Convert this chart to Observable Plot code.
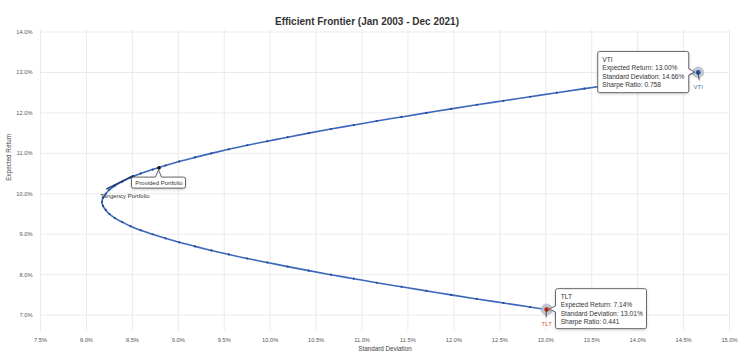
<!DOCTYPE html>
<html>
<head>
<meta charset="utf-8">
<script src="https://cdn.jsdelivr.net/npm/d3@7"></script>
<script src="https://cdn.jsdelivr.net/npm/@observablehq/plot@0.6"></script>
<style>
  html, body { margin: 0; padding: 0; background: white; }
</style>
</head>
<body>
<div id="chart"></div>
<script>
// ---- data ----
const title = "Efficient Frontier (Jan 2003 - Dec 2021)";
const xLabel = "Standard Deviation";
const yLabel = "Expected Return";
const xTicks = [7.5, 8.0, 8.5, 9.0, 9.5, 10.0, 10.5, 11.0, 11.5, 12.0, 12.5, 13.0, 13.5, 14.0, 14.5, 15.0];
const yTicks = [7, 8, 9, 10, 11, 12, 13, 14];

// frontier: expected return (%) and standard deviation (%)
const frontierRet = [7.14, 7.2, 7.3, 7.4, 7.5, 7.6, 7.7, 7.8, 7.9, 8.0, 8.1, 8.2, 8.3, 8.4, 8.5, 8.6, 8.7, 8.8, 8.9, 9.0,
  9.1, 9.2, 9.3, 9.4, 9.5, 9.6, 9.7, 9.8, 9.9, 10.0, 10.1, 10.2, 10.3, 10.4, 10.5, 10.6, 10.7, 10.8, 10.9, 11.0,
  11.1, 11.2, 11.3, 11.4, 11.5, 11.6, 11.7, 11.8, 11.9, 12.0, 12.1, 12.2, 12.3, 12.4, 12.5, 12.6, 12.7, 12.8, 12.9, 13.0];
const frontierSd = [13.01, 12.83, 12.54, 12.25, 11.97, 11.70, 11.43, 11.16, 10.91, 10.66, 10.42, 10.19, 9.97, 9.75, 9.55, 9.36, 9.18, 9.01, 8.86, 8.72,
  8.59, 8.48, 8.39, 8.31, 8.25, 8.21, 8.18, 8.17, 8.18, 8.21, 8.25, 8.31, 8.39, 8.48, 8.59, 8.72, 8.86, 9.01, 9.18, 9.36,
  9.55, 9.75, 9.97, 10.19, 10.42, 10.66, 10.91, 11.16, 11.43, 11.70, 11.97, 12.25, 12.54, 12.83, 13.12, 13.42, 13.73, 14.04, 14.35, 14.66];

const assetNames = ["VTI", "TLT"];
const assetRet = [13.00, 7.14];
const assetSd = [14.66, 13.01];
const assetSharpe = [0.758, 0.441];

const providedName = "Provided Portfolio";
const providedRet = 10.64;
const providedSd = 8.79;

const tangencyName = "Tangency Portfolio";
const tangencyRet = 10.43;
const tangencySd = 8.51;

// ---- tables ----
const frontier = frontierRet.map((r, i) => ({ret: r, sd: frontierSd[i]}));
const assets = assetNames.map((n, i) => ({name: n, ret: assetRet[i], sd: assetSd[i], sharpe: assetSharpe[i]}));
const provided = [{name: providedName, ret: providedRet, sd: providedSd}];
const tangency = [{name: tangencyName, ret: tangencyRet, sd: tangencySd}];
const vti = [assets[0]];
const tlt = [assets[1]];

const lineColor = "#3b67bd";
const dotColor = "#26498f";
const assetColor = {VTI: "#2a55b0", TLT: "#c8391f"};
const labelColor = {VTI: "#4a6db5", TLT: "#d0603a"};

// leader line drawn in pixel offsets from a data point
function leader(d, dxp, dyp, stroke, width) {
  return (index, scales) => {
    const x = scales.x(d.sd), y = scales.y(d.ret);
    return d3.create("svg:line")
      .attr("x1", x).attr("y1", y)
      .attr("x2", x + dxp).attr("y2", y + dyp)
      .attr("stroke", stroke).attr("stroke-width", width)
      .attr("stroke-linecap", "round")
      .node();
  };
}

// annotation box (pixel offsets from a data point) with a pointer toward the point
function box(d, x0, x1, y0, y1, side, gap) {
  return (index, scales) => {
    const px = scales.x(d.sd), py = scales.y(d.ret);
    const a = px + x0, b = px + x1, t = py + y0, u = py + y1, r = 2, w = 3;
    let p;
    if (side === "right") {
      p = `M${a + r},${t}H${b - r}Q${b},${t} ${b},${t + r}V${py - w}L${px - gap},${py}L${b},${py + w}V${u - r}Q${b},${u} ${b - r},${u}H${a + r}Q${a},${u} ${a},${u - r}V${t + r}Q${a},${t} ${a + r},${t}Z`;
    } else if (side === "left") {
      p = `M${a + r},${t}H${b - r}Q${b},${t} ${b},${t + r}V${u - r}Q${b},${u} ${b - r},${u}H${a + r}Q${a},${u} ${a},${u - r}V${py + w}L${px + gap},${py}L${a},${py - w}V${t + r}Q${a},${t} ${a + r},${t}Z`;
    } else {
      p = `M${a + r},${t}H${px - w}L${px},${py + gap}L${px + w},${t}H${b - r}Q${b},${t} ${b},${t + r}V${u - r}Q${b},${u} ${b - r},${u}H${a + r}Q${a},${u} ${a},${u - r}V${t + r}Q${a},${t} ${a + r},${t}Z`;
    }
    return d3.create("svg:path")
      .attr("d", p)
      .attr("fill", "white")
      .attr("stroke", "#555")
      .attr("stroke-width", 0.9)
      .style("filter", "drop-shadow(0 1px 1.5px rgba(0,0,0,0.18))")
      .node();
  };
}

const tipLines = [
  d => d.name,
  d => `Expected Return: ${d.ret.toFixed(2)}%`,
  d => `Standard Deviation: ${d.sd.toFixed(2)}%`,
  d => `Sharpe Ratio: ${d.sharpe.toFixed(3)}`
];
const lineOffsets = [-12.3, -4.1, 4.1, 12.3];
function tipTextMarks(data, dx) {
  return tipLines.map((f, i) => Plot.text(data, {x: "sd", y: "ret", text: f, textAnchor: "start", dx, dy: lineOffsets[i], fontSize: 6.6, fill: "#333"}));
}

const chart = Plot.plot({
  width: 740,
  height: 359,
  marginLeft: 40,
  marginRight: 11,
  marginTop: 29.5,
  marginBottom: 28.2,
  style: {fontFamily: "Liberation Sans, Arial, sans-serif", color: "#333", background: "white"},
  x: {domain: [7.5, 15.0]},
  y: {domain: [6.6, 14.05]},
  marks: [
    Plot.gridX(xTicks, {stroke: "#ebebeb", strokeOpacity: 1, strokeWidth: 1}),
    Plot.gridY(yTicks, {stroke: "#ebebeb", strokeOpacity: 1, strokeWidth: 1}),
    Plot.axisX(xTicks, {tickFormat: d => d.toFixed(1) + "%", tickSize: 0, tickPadding: 7, fontSize: 5.7, color: "#555", label: null}),
    Plot.axisY(yTicks, {tickFormat: d => d.toFixed(1) + "%", tickSize: 0, tickPadding: 8, fontSize: 5.7, color: "#555", label: null}),
    Plot.text([title], {frameAnchor: "top", dx: -18, dy: -12, fontSize: 10, fontWeight: "bold", fill: "#333"}),
    Plot.text([xLabel], {frameAnchor: "bottom", dy: 20, fontSize: 6.3, fill: "#444"}),
    Plot.text([yLabel], {frameAnchor: "left", dx: -32, rotate: -90, fontSize: 6.3, fill: "#444"}),
    Plot.line(frontier, {x: "sd", y: "ret", stroke: lineColor, strokeWidth: 1.6, curve: "catmull-rom"}),
    Plot.dot(frontier, {x: "sd", y: "ret", r: 1.1, fill: dotColor, stroke: "none"}),
    leader(tangency[0], -26, 13, "#1e3a70", 1.6),
    Plot.dot(tangency, {x: "sd", y: "ret", r: 1.3, fill: "#1e3a70"}),
    Plot.text(tangency, {x: "sd", y: "ret", text: "name", textAnchor: "start", dx: -33, dy: 20, fontSize: 6, fill: "#333"}),
    Plot.dot(provided, {x: "sd", y: "ret", r: 1.8, fill: "#111"}),
    box(provided[0], -27, 27, 9.7, 20.7, "top", 2.5),
    Plot.text(provided, {x: "sd", y: "ret", text: "name", dy: 15.3, fontSize: 6, fill: "#333"}),
    Plot.dot(assets, {x: "sd", y: "ret", r: 5.5, fill: "#b9c0cd", fillOpacity: 0.85, stroke: "#aab2c0", strokeWidth: 0.6}),
    Plot.dot(assets, {x: "sd", y: "ret", r: 2.4, fill: d => assetColor[d.name]}),
    leader(assets[0], 1.5, 8, "#222", 0.8),
    leader(assets[1], 0, 8, "#222", 0.8),
    Plot.text(assets, {x: "sd", y: "ret", text: "name", dy: 14.5, fontSize: 6, fill: d => labelColor[d.name]}),
    box(assets[0], -100, -9, -20.5, 20.7, "right", 3),
    ...tipTextMarks(vti, -96),
    box(assets[1], 9.3, 100.3, -20.3, 19.7, "left", 3),
    ...tipTextMarks(tlt, 14)
  ]
});
document.getElementById("chart").appendChild(chart);
</script>
</body>
</html>
